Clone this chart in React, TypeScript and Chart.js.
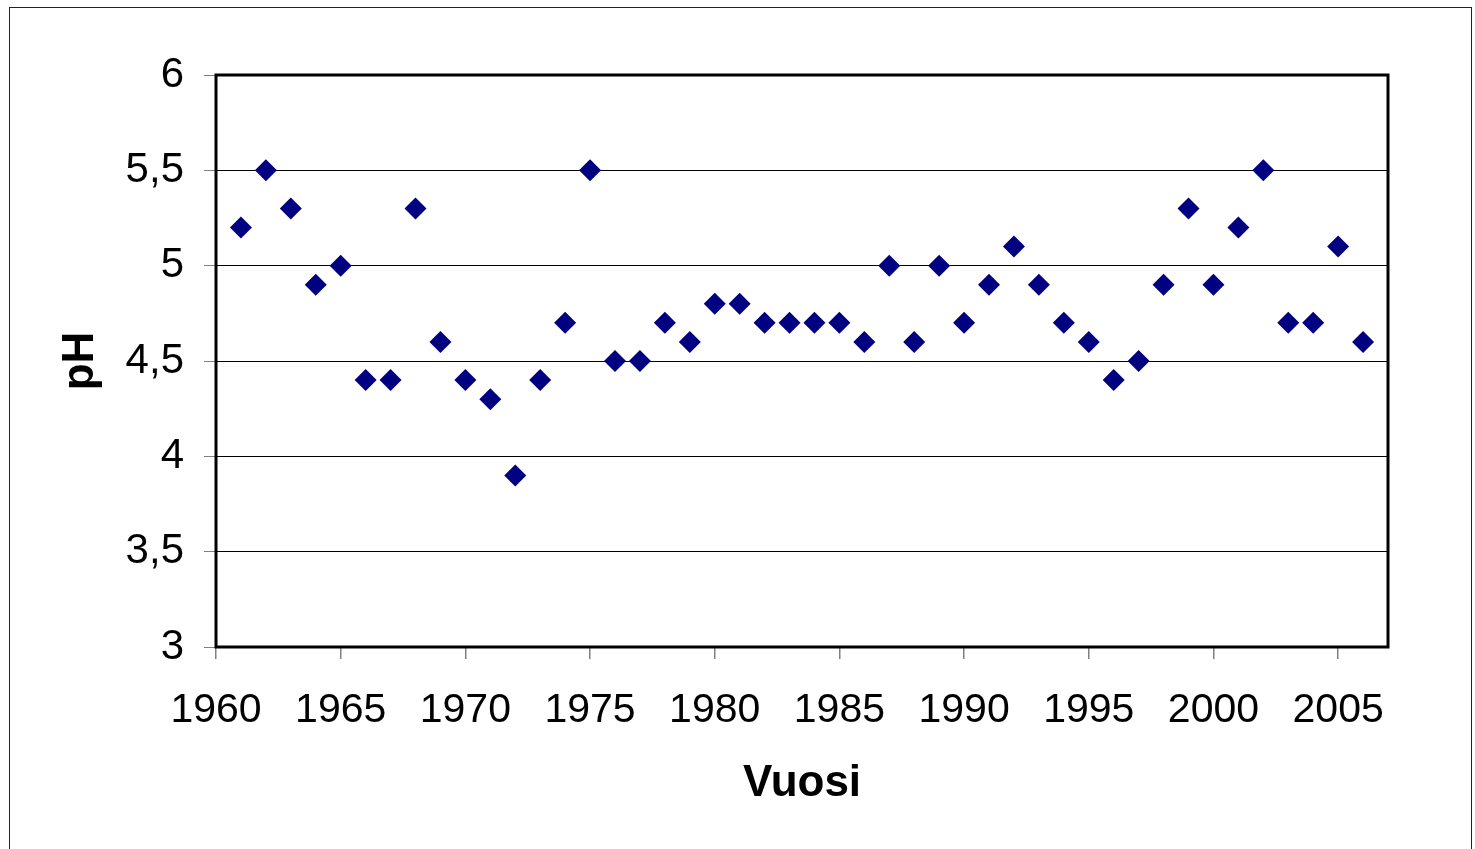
import React, { useEffect, useRef } from "react";
import { Chart, registerables } from "chart.js";

Chart.register(...registerables);

const years: number[] = [
  1961, 1962, 1963, 1964, 1965, 1966, 1967, 1968, 1969, 1970,
  1971, 1972, 1973, 1974, 1975, 1976, 1977, 1978, 1979, 1980,
  1981, 1982, 1983, 1984, 1985, 1986, 1987, 1988, 1989, 1990,
  1991, 1992, 1993, 1994, 1995, 1996, 1997, 1998, 1999, 2000,
  2001, 2002, 2003, 2004, 2005, 2006,
];

const phValues: number[] = [
  5.2, 5.5, 5.3, 4.9, 5.0, 4.4, 4.4, 5.3, 4.6, 4.4,
  4.3, 3.9, 4.4, 4.7, 5.5, 4.5, 4.5, 4.7, 4.6, 4.8,
  4.8, 4.7, 4.7, 4.7, 4.7, 4.6, 5.0, 4.6, 5.0, 4.7,
  4.9, 5.1, 4.9, 4.7, 4.6, 4.4, 4.5, 4.9, 5.3, 4.9,
  5.2, 5.5, 4.7, 4.7, 5.1, 4.6,
];

const xTickValues: number[] = [1960, 1965, 1970, 1975, 1980, 1985, 1990, 1995, 2000, 2005];
const xMin = 1960;
const xMax = 2007;
const yMin = 3;
const yMax = 6;
const yStep = 0.5;
const xTitle = "Vuosi";
const yTitle = "pH";

const FONT = "'Liberation Sans', Arial, sans-serif";

const plotBorder = {
  id: "plotBorder",
  afterDraw(chart: any) {
    const { ctx, chartArea } = chart;
    ctx.save();
    ctx.strokeStyle = "#000";
    ctx.lineWidth = 3;
    ctx.strokeRect(
      chartArea.left,
      chartArea.top,
      chartArea.right - chartArea.left,
      chartArea.bottom - chartArea.top
    );
    ctx.restore();
  },
};

export default function App() {
  const ref = useRef<HTMLCanvasElement | null>(null);

  useEffect(() => {
    if (!ref.current) return;
    const chart = new Chart(ref.current, {
      type: "scatter",
      data: {
        datasets: [
          {
            data: years.map((y, i) => ({ x: y, y: phValues[i] })),
            pointStyle: "rectRot",
            pointRadius: 11,
            pointHoverRadius: 11,
            backgroundColor: "#000080",
            borderColor: "#000080",
            borderWidth: 0,
          },
        ],
      },
      options: {
        animation: false,
        responsive: false,
        layout: { padding: { top: 75, right: 87, left: 54, bottom: 39 } },
        plugins: {
          legend: { display: false },
          tooltip: { enabled: false },
        },
        scales: {
          x: {
            type: "linear",
            min: xMin,
            max: xMax,
            afterBuildTicks: (scale: any) => {
              scale.ticks = xTickValues.map((v) => ({ value: v }));
            },
            afterFit: (scale: any) => {
              scale.height = 163;
            },
            ticks: {
              color: "#000",
              font: { family: FONT, size: 41 },
              padding: 27,
              maxRotation: 0,
              autoSkip: false,
              callback: (v: any) => String(v),
            },
            grid: {
              drawOnChartArea: false,
              drawTicks: true,
              tickLength: 12,
              tickColor: "#808080",
              lineWidth: 1.5,
            },
            border: { display: false },
            title: {
              display: true,
              text: xTitle,
              color: "#000",
              font: { family: FONT, size: 44, weight: "bold" },
              padding: { top: 0, bottom: 0 },
            },
          },
          y: {
            type: "linear",
            min: yMin,
            max: yMax,
            afterFit: (scale: any) => {
              scale.width = 162;
            },
            ticks: {
              stepSize: yStep,
              color: "#000",
              font: { family: FONT, size: 42 },
              padding: 20,
              callback: (v: any) => String(v).replace(".", ","),
            },
            grid: {
              color: "#000",
              lineWidth: 1,
              drawTicks: true,
              tickLength: 12,
              tickColor: "#808080",
            },
            border: { display: false },
            title: {
              display: true,
              text: yTitle,
              color: "#000",
              font: { family: FONT, size: 44, weight: "bold" },
              padding: { top: 0, bottom: 0 },
            },
          },
        },
      },
      plugins: [plotBorder],
    });
    return () => chart.destroy();
  }, []);

  return (
    <div style={{ position: "fixed", left: 0, top: 0, width: 1475, height: 849, background: "#fff" }}>
      <canvas ref={ref} width={1475} height={849} style={{ position: "absolute", left: 0, top: 0 }} />
      <div
        style={{
          position: "absolute",
          left: 9,
          top: 7,
          width: 1463,
          height: 900,
          border: "1px solid #222",
          boxSizing: "border-box",
          pointerEvents: "none",
        }}
      />
    </div>
  );
}
